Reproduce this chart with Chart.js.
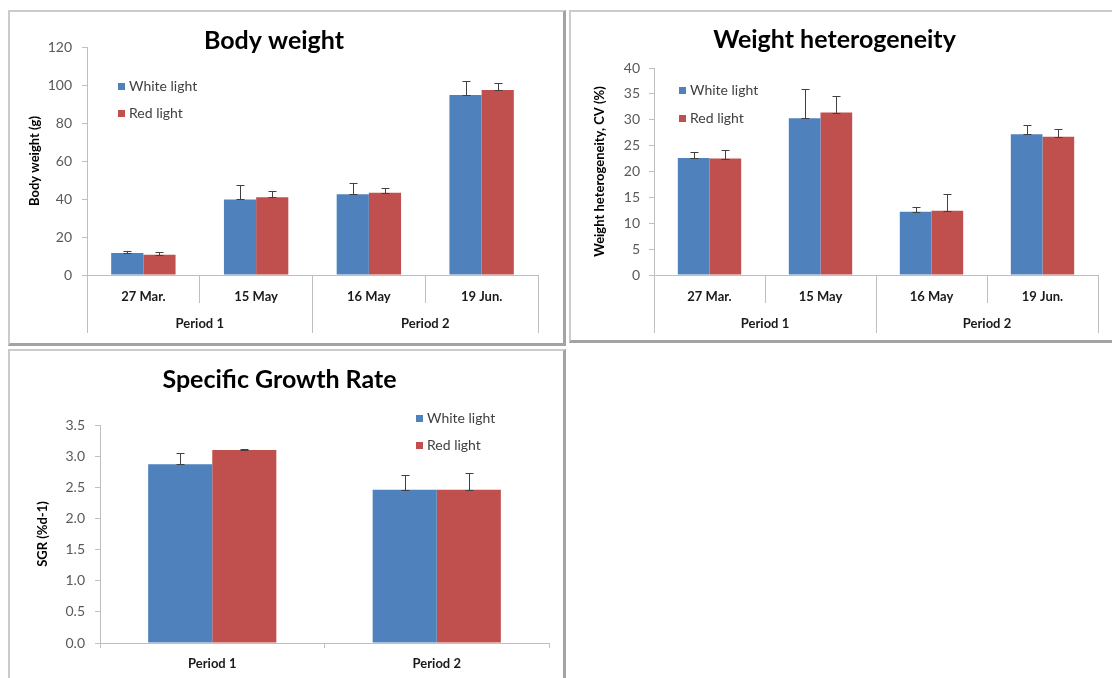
<!DOCTYPE html>
<html>
<head>
<meta charset="utf-8">
<title>Body weight, weight heterogeneity and SGR</title>
<script src="https://cdn.jsdelivr.net/npm/chart.js@4.4.1/dist/chart.umd.min.js"></script>
<style>
  html, body { margin: 0; padding: 0; background: #fff; width: 1112px; height: 678px; overflow: hidden; }
  .panel {
    position: absolute; box-sizing: border-box; background: #fff;
    border-style: solid; border-color: #cbcbcb #a3a3a3 #a3a3a3 #cbcbcb;
    border-width: 2px 3px 3px 2px;
  }
  .panel canvas { position: absolute; left: 0; top: 0; }
</style>
</head>
<body>
<div class="panel" style="left:8px;top:10px;width:558px;height:336px"><canvas id="bodyWeight" width="553" height="331"></canvas></div>
<div class="panel" style="left:569px;top:10px;width:560px;height:333px"><canvas id="heterogeneity" width="555" height="328"></canvas></div>
<div class="panel" style="left:8px;top:349px;width:558px;height:345px"><canvas id="sgr" width="553" height="335"></canvas></div>
<script>
// Sampling dates and trial periods
const dateLabels = ['27 Mar.', '15 May', '16 May', '19 Jun.'];
const periodLabels = ['Period 1', 'Period 2'];
const seriesNames = ['White light', 'Red light'];
const seriesColors = ['#4F81BD', '#C0504D'];

// Body weight (g), mean and SD
const bodyWeightWhite = [11.6, 39.8, 42.5, 94.7];
const bodyWeightWhiteSd = [1.2, 7.6, 6.1, 7.3];
const bodyWeightRed = [10.6, 40.9, 43.3, 97.4];
const bodyWeightRedSd = [1.7, 3.5, 2.7, 3.5];

// Weight heterogeneity, CV (%), mean and SD
const cvWhite = [22.6, 30.3, 12.2, 27.2];
const cvWhiteSd = [1.2, 5.6, 0.9, 1.8];
const cvRed = [22.5, 31.4, 12.4, 26.7];
const cvRedSd = [1.6, 3.1, 3.2, 1.6];

// Specific growth rate (%/day) per period, mean and SD
const sgrWhite = [2.87, 2.46];
const sgrWhiteSd = [0.18, 0.24];
const sgrRed = [3.10, 2.46];
const sgrRedSd = [0.01, 0.27];

// Value axis ranges: [min, max, step]
const bodyWeightAxis = [0, 120, 20];
const cvAxis = [0, 40, 5];
const sgrAxis = [0, 3.5, 0.5];

const FONT = 'Lato';
const AXIS_GREY = '#bfbfbf';
Chart.defaults.font.family = FONT;

// Upper SD whiskers drawn on top of each bar
const errorBarPlugin = {
  id: 'errorBars',
  afterDatasetsDraw(chart, args, opts) {
    const ctx = chart.ctx;
    const yScale = chart.scales.y;
    ctx.save();
    ctx.strokeStyle = opts.color;
    ctx.lineWidth = 1;
    chart.data.datasets.forEach((ds, i) => {
      if (!ds.errors) return;
      chart.getDatasetMeta(i).data.forEach((bar, j) => {
        const v = ds.data[j];
        const e = ds.errors[j];
        const x = Math.round(bar.x) + 0.5;
        const yBase = Math.round(yScale.getPixelForValue(v)) + 0.5;
        const yTop = Math.round(yScale.getPixelForValue(v + e)) + 0.5;
        const h = opts.capWidth / 2;
        ctx.beginPath();
        ctx.moveTo(x, yBase); ctx.lineTo(x, yTop);
        ctx.moveTo(x - h, yTop); ctx.lineTo(x + h, yTop);
        ctx.moveTo(x - h, yBase); ctx.lineTo(x + h, yBase);
        ctx.stroke();
      });
    });
    ctx.restore();
  }
};

// Series key placed inside the plot area
const insideLegendPlugin = {
  id: 'insideLegend',
  afterDraw(chart, args, opts) {
    const { ctx, chartArea } = chart;
    ctx.save();
    ctx.font = opts.fontSize + 'px ' + FONT;
    ctx.textBaseline = 'middle';
    ctx.textAlign = 'left';
    chart.data.datasets.forEach((ds, i) => {
      const x = chartArea.left + opts.dx;
      const y = chartArea.top + opts.dy[i];
      ctx.fillStyle = ds.backgroundColor;
      ctx.fillRect(x, Math.round(y - opts.box / 2), opts.box, opts.box);
      ctx.fillStyle = opts.color;
      ctx.fillText(ds.label, x + opts.box + 4, y);
    });
    ctx.restore();
  }
};

function buildPanel(id, cfg) {
  const values = [cfg.white, cfg.red];
  const errors = [cfg.whiteSd, cfg.redSd];
  const datasets = values.map((vals, i) => ({
    label: seriesNames[i],
    data: vals,
    errors: errors[i],
    backgroundColor: seriesColors[i],
    borderWidth: 0,
    categoryPercentage: 0.571,
    barPercentage: 1.0,
    xAxisID: 'x',
    yAxisID: 'y'
  }));

  const scales = {
    x: {
      type: 'category',
      position: 'bottom',
      weight: 0,
      offset: true,
      grid: { offset: true, drawOnChartArea: false, tickLength: cfg.xTick, color: AXIS_GREY },
      border: { color: AXIS_GREY },
      ticks: { padding: cfg.xPad, color: '#1a1a1a', font: { size: 13, weight: 'bold' } },
      afterFit: s => { s.height = cfg.xHeight; }
    },
    y: {
      min: cfg.axis[0], max: cfg.axis[1],
      grid: { drawOnChartArea: false, tickLength: 5, color: AXIS_GREY },
      border: { color: AXIS_GREY },
      ticks: {
        stepSize: cfg.axis[2], padding: cfg.yPad, color: '#595959', font: { size: 14 },
        callback: cfg.decimals ? (v => Number(v).toFixed(cfg.decimals)) : (v => v)
      },
      title: {
        display: true, text: cfg.yTitle, color: '#000',
        font: { size: cfg.yTitleSize, weight: 'bold' },
        padding: { top: cfg.yTitlePad, bottom: 0 }
      },
      afterFit: s => { s.width = cfg.left; }
    }
  };

  if (cfg.groups) {
    scales.x2 = {
      type: 'category',
      labels: cfg.groups,
      position: 'bottom',
      weight: 1,
      offset: true,
      grid: { offset: true, drawOnChartArea: false, tickLength: 30, color: AXIS_GREY },
      border: { display: false },
      ticks: { padding: -17, color: '#1a1a1a', font: { size: 13, weight: 'bold' } },
      afterFit: s => { s.height = 30; }
    };
  }

  return new Chart(document.getElementById(id), {
    type: 'bar',
    data: { labels: cfg.labels, datasets },
    options: {
      responsive: false,
      animation: false,
      devicePixelRatio: 1,
      layout: { padding: { left: 0, top: 0, right: cfg.right, bottom: cfg.bottom } },
      plugins: {
        legend: { display: false },
        tooltip: { enabled: false },
        title: {
          display: true, text: cfg.title, color: '#000',
          font: { size: 25, weight: 'bold' },
          padding: { top: cfg.titleTop, bottom: cfg.titleBottom }
        },
        errorBars: { color: '#404040', capWidth: 8 },
        insideLegend: { dx: cfg.legendDx, dy: cfg.legendDy, box: 7, fontSize: 14, color: '#404040' }
      },
      scales
    },
    plugins: [errorBarPlugin, insideLegendPlugin]
  });
}

buildPanel('bodyWeight', {
  title: 'Body weight', yTitle: 'Body weight (g)', yTitleSize: 13, yTitlePad: 17,
  labels: dateLabels, groups: periodLabels,
  white: bodyWeightWhite, whiteSd: bodyWeightWhiteSd, red: bodyWeightRed, redSd: bodyWeightRedSd,
  axis: bodyWeightAxis,
  left: 77, right: 25, bottom: 10, titleTop: 14, titleBottom: -9,
  xTick: 28, xPad: -14, xHeight: 28, yPad: 10,
  legendDx: 31, legendDy: [39, 66]
});

buildPanel('heterogeneity', {
  title: 'Weight heterogeneity', yTitle: 'Weight heterogeneity, CV (%)', yTitleSize: 13, yTitlePad: 21,
  labels: dateLabels, groups: periodLabels,
  white: cvWhite, whiteSd: cvWhiteSd, red: cvRed, redSd: cvRedSd,
  axis: cvAxis,
  left: 83, right: 28, bottom: 7, titleTop: 13, titleBottom: 13,
  xTick: 28, xPad: -14, xHeight: 28, yPad: 9,
  legendDx: 25, legendDy: [22, 50]
});

buildPanel('sgr', {
  title: 'Specific Growth Rate', yTitle: 'SGR (%d-1)', yTitleSize: 13, yTitlePad: 25,
  labels: periodLabels, groups: null,
  white: sgrWhite, whiteSd: sgrWhiteSd, red: sgrRed, redSd: sgrRedSd,
  axis: sgrAxis, decimals: 1,
  left: 90, right: 14, bottom: 13, titleTop: 14, titleBottom: 30,
  xTick: 5, xPad: 8, xHeight: 30, yPad: 10,
  legendDx: 316, legendDy: [-7, 20]
});
</script>
</body>
</html>
